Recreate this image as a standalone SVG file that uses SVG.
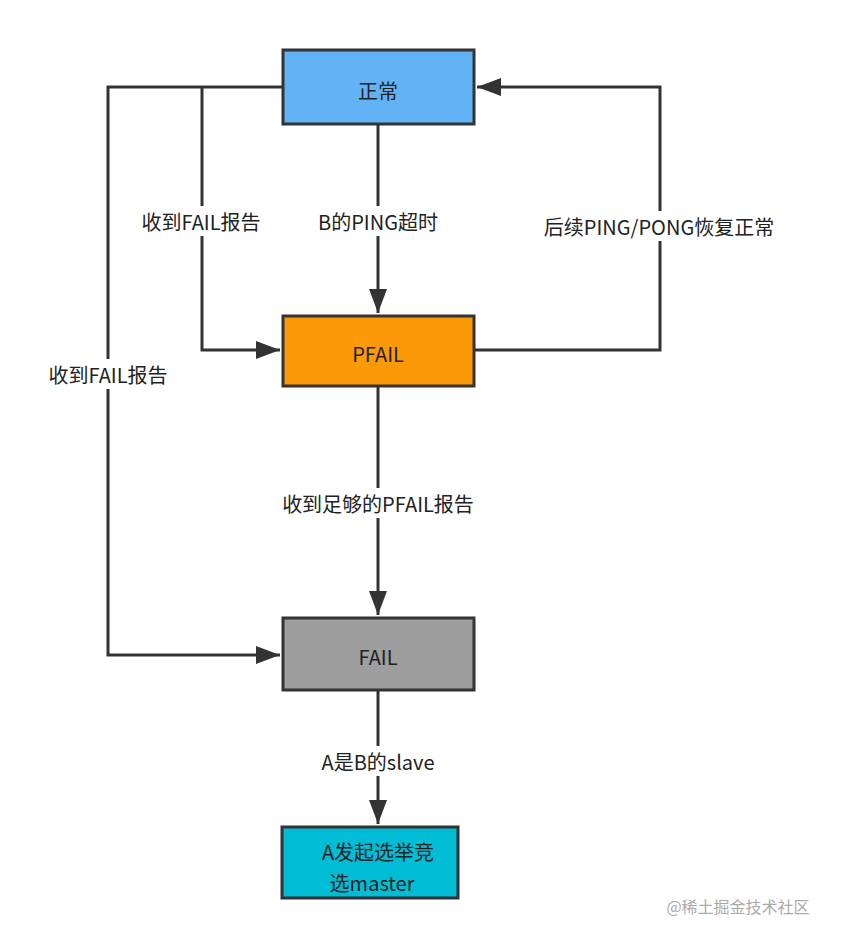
<svg xmlns="http://www.w3.org/2000/svg" width="844" height="948" viewBox="0 0 844 948">
<style>
.n{stroke:#333;stroke-width:3}
.t{font-family:"Noto Sans CJK SC",sans-serif;font-size:20px;fill:#222;text-anchor:middle;dominant-baseline:central}
.c{fill:none;stroke:#333;stroke-width:3}
.lb{fill:#fff}
</style>
<defs><marker id="a" markerWidth="10" markerHeight="10" refX="9" refY="5" orient="auto" markerUnits="userSpaceOnUse" viewBox="0 0 10 10"><path d="M0,0L10,5L0,10z" fill="#333"/></marker>
<marker id="b" markerWidth="24" markerHeight="24" refX="24" refY="12" orient="auto" markerUnits="userSpaceOnUse" viewBox="0 0 24 24"><path d="M0,3L24,12L0,21z" fill="#333"/></marker></defs>
<rect width="844" height="948" fill="#fff"/>
<g id="connectors">
<path class="c" d="M283,87H108V655H280" marker-end="url(#b)"/>
<path class="c" d="M202,87V350H280" marker-end="url(#b)"/>
<path class="c" d="M378,124V313" marker-end="url(#b)"/>
<path class="c" d="M474,350H660V87H477" marker-end="url(#b)"/>
<path class="c" d="M378,386V615" marker-end="url(#b)"/>
<path class="c" d="M378,690V824" marker-end="url(#b)"/>
<rect class="lb" x="120" y="206" width="164" height="30"/>
<text class="t" x="201" y="221">收到FAIL报告</text>
<rect class="lb" x="298" y="206" width="160" height="30"/>
<text class="t" x="378" y="221">B的PING超时</text>
<rect class="lb" x="504" y="211" width="310" height="30"/>
<text class="t" x="659" y="226">后续PING/PONG恢复正常</text>
<rect class="lb" x="28" y="359" width="162" height="30"/>
<text class="t" x="108" y="374">收到FAIL报告</text>
<rect class="lb" x="250" y="488" width="256" height="30"/>
<text class="t" x="378" y="503">收到足够的PFAIL报告</text>
<rect class="lb" x="300" y="746" width="156" height="30"/>
<text class="t" x="378" y="761">A是B的slave</text>
</g>
<g id="n1"><rect class="n" x="283" y="50" width="191" height="74" fill="#62b3f5"/><text class="t" x="378" y="90">正常</text></g>
<g id="n2"><rect class="n" x="283" y="316" width="191" height="70" fill="#fb9a06"/><text class="t" x="378" y="353">PFAIL</text></g>
<g id="n3"><rect class="n" x="283" y="618" width="191" height="72" fill="#9e9e9e"/><text class="t" x="378" y="656">FAIL</text></g>
<g id="n4"><rect class="n" x="282" y="827" width="176" height="71" fill="#00bcd4"/><text class="t" x="378" y="851">A发起选举竞</text><text class="t" x="372" y="882">选master</text></g>
<text x="738" y="913" style="font-family:'Noto Sans CJK SC',sans-serif;font-size:16px;fill:#aaa;text-anchor:middle">@稀土掘金技术社区</text>
</svg>
